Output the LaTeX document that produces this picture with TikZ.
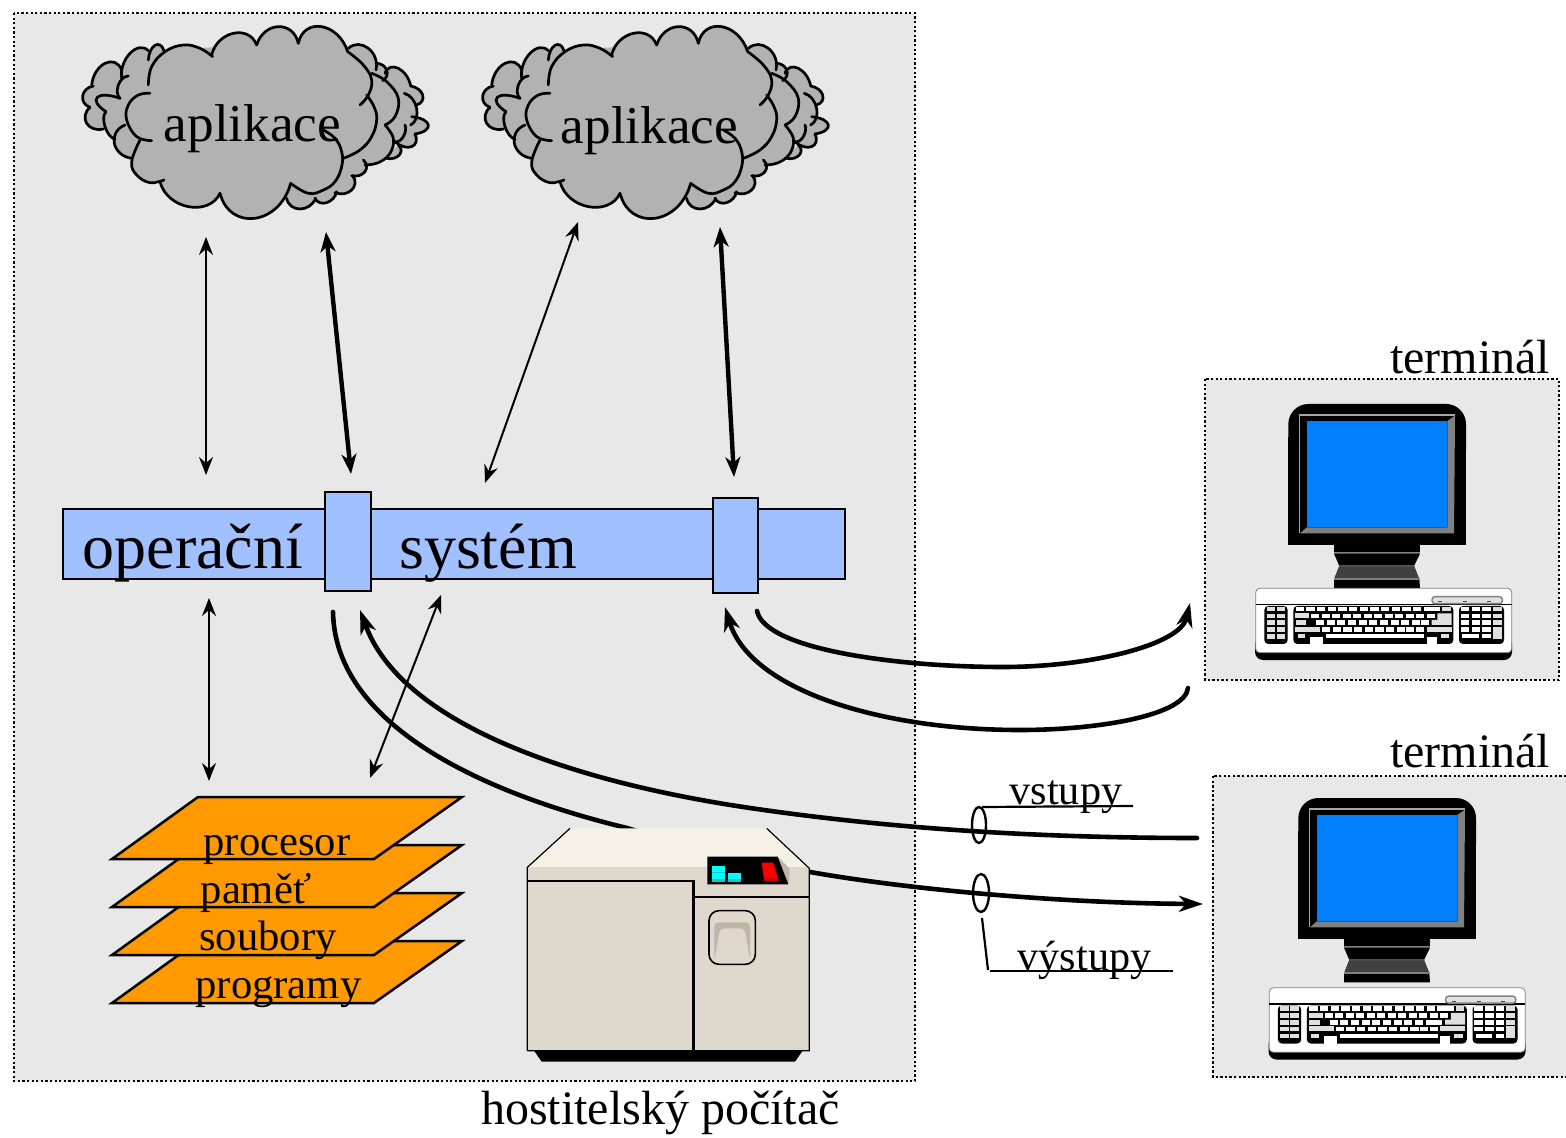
\documentclass[tikz,border=0pt]{standalone}
\usepackage{fontspec}
\setmainfont{Liberation Serif}
\usetikzlibrary{calc,arrows.meta,shapes.geometric}
\definecolor{bggray}{HTML}{E8E8E8}
\definecolor{cloudgray}{HTML}{B2B2B2}
\definecolor{busblue}{HTML}{A0C0FF}
\definecolor{plate}{HTML}{FF9900}
\definecolor{hosttop}{HTML}{F6F1E6}
\definecolor{hostbody}{HTML}{DFD8CC}
\definecolor{hostshade}{HTML}{BDB6A9}
\definecolor{screenblue}{HTML}{0080FF}
\definecolor{keygray}{HTML}{E0E0E0}
\definecolor{lcdcyan}{HTML}{00FFFF}
\definecolor{lcddark}{HTML}{00CCCC}
\tikzset{
  dotbox/.style={draw=black,fill=bggray,line width=1.15pt,dash pattern=on 1.15pt off 1.15pt},
  txt/.style={inner sep=0pt,anchor=base,text=black},
  thinarrow/.style={line width=1pt,{Stealth[length=9pt,width=7pt,inset=3pt]}-{Stealth[length=9pt,width=7pt,inset=3pt]}},
  thickarrow/.style={line width=2.2pt,{Stealth[length=10pt,width=7.5pt,inset=3pt]}-{Stealth[length=10pt,width=7.5pt,inset=3pt]}},
  curvearrow/.style={line width=2.3pt,line cap=round,-{Stealth[length=12pt,width=8pt,inset=3.5pt]}},
  plateshape/.style={draw=black,fill=plate,line width=1.25pt,line join=miter},
  busbox/.style={draw=black,fill=busblue,line width=1.1pt},
  cloudline/.style={draw=black,line width=1.35pt,line cap=round},
  cloudpaint/.style={fill=cloudgray,draw=cloudgray,line width=0.4pt},
  leader/.style={draw=black,line width=1.1pt},
  ringshape/.style={draw=black,line width=1.2pt,ellipse,inner sep=0pt},
}
\newcommand\lobefill[6]{\path[cloudpaint] (#1,#2) .. controls ($0.1833*(#1,#2)+1.3333*(#3,#4)-0.5167*(#5,#6)$) and ($0.1833*(#5,#6)+1.3333*(#3,#4)-0.5167*(#1,#2)$) .. (#5,#6) -- cycle;}
\newcommand\lobedraw[6]{\draw[cloudline] (#1,#2) .. controls ($0.1833*(#1,#2)+1.3333*(#3,#4)-0.5167*(#5,#6)$) and ($0.1833*(#5,#6)+1.3333*(#3,#4)-0.5167*(#1,#2)$) .. (#5,#6);}
\newcommand\slobefill[1]{\path[cloudpaint] plot[smooth,tension=0.7] coordinates {#1} -- cycle;}
\newcommand\slobedraw[1]{\draw[cloudline] plot[smooth,tension=0.7] coordinates {#1};}
\def\backlobes{235/150/255/106/282/122, 155/205/180/130/235/122, 175/198/145/225/150/265, 155/180/105/160/65/225, 70/228/38/258/60/292, 60/292/50/340/100/357, 150/265/82/262/108/305, 108/305/105/350/135/388, 165/345/133/400/185/445, 835/115/895/115/918/180, 918/160/950/180/938/212, 880/450/885/485/845/497, 848/497/845/540/795/548, 800/545/770/578/735/565, 737/565/690/597/650/565, 945/190/985/175/1022/228, 1022/228/1058/255/1040/285, 1003/250/1040/295/1022/345, 1025/320/1075/345/1035/372, 1035/372/1025/410/975/395, 1005/345/1000/380/975/395, 985/405/988/435/950/445}
\def\frontlobes{425/135/490/70/560/105, 560/105/625/50/685/100, 685/100/755/50/833/125, 662/520/555/625/450/550, 450/550/355/590/270/515}
\newcommand\backsmooth[1]{%
  #1{(905,190) (950,215) (985,265) (975,320) (945,345)}
  #1{(945,345) (970,385) (960,430) (925,458) (885,465)}
}
\newcommand\frontsmooth[1]{%
  #1{(833,125) (880,165) (905,210) (895,255) (870,285)}
  #1{(890,255) (912,290) (920,330) (905,380) (870,420) (820,445)}
  #1{(760,360) (795,385) (815,425) (815,470) (795,515) (760,540) (715,550) (662,520)}
  #1{(282,510) (240,518) (200,495) (185,455) (210,390)}
  #1{(245,392) (200,380) (170,330) (175,285) (205,255) (240,250)}
  #1{(235,225) (245,170) (285,125) (340,105) (390,115) (428,140)}
}
\newcommand\cloudshape{%
  \fill[cloudgray] (60,292)--(65,225)--(155,180)--(155,205)--(235,122)--(282,122)--(600,100)--(835,115)--(918,160)--(945,190)--(1022,228)--(1040,285)--(1035,372)--(975,395)--(950,445)--(885,465)--(845,497)--(795,548)--(735,565)--(650,565)--(400,500)--(185,445)--(135,388)--(100,357)--cycle;
  \foreach \a/\b/\c/\d/\e/\f in \backlobes {\lobefill{\a}{\b}{\c}{\d}{\e}{\f}}
  \backsmooth\slobefill
  \foreach \a/\b/\c/\d/\e/\f in \backlobes {\lobedraw{\a}{\b}{\c}{\d}{\e}{\f}}
  \backsmooth\slobedraw
  \fill[cloudgray] (425,135)--(560,105)--(685,100)--(833,125)--(890,255)--(820,445)--(662,520)--(450,550)--(270,515)--(210,390)--(240,250)--cycle;
  \foreach \a/\b/\c/\d/\e/\f in \frontlobes {\lobefill{\a}{\b}{\c}{\d}{\e}{\f}}
  \frontsmooth\slobefill
  \foreach \a/\b/\c/\d/\e/\f in \frontlobes {\lobedraw{\a}{\b}{\c}{\d}{\e}{\f}}
  \frontsmooth\slobedraw
}
\newcommand\monitorshape{%
  \fill[black,rounded corners=10pt] (265,300)--(265,102)--(798,102)--(798,300)--cycle;
  \fill[black] (265,200) rectangle (798,525);
  \fill[gray!70] (297,133) rectangle (765,139);
  \fill[gray!70] (297,133) rectangle (300,490);
  \fill[gray] (742,153)--(765,137)--(762,490)--(300,490)--(320,472)--(742,472)--cycle;
  \fill[screenblue] (320,153) rectangle (742,472);
  \fill[black] (402,525) rectangle (660,547);
  \fill[gray] (402,547) rectangle (660,551);
  \fill[black] (402,551)--(660,551)--(642,588)--(658,628)--(660,655)--(402,655)--(402,628)--(418,588)--cycle;
  \fill[gray] (418,586)--(642,586)--(643,590)--(417,590)--cycle;
  \fill[black!75] (417,590)--(643,590)--(656,625)--(404,625)--cycle;
  \fill[gray] (402,625) rectangle (660,630);
}
\newcommand\keyboardshape{%
  \fill[black,rounded corners=4pt] (165,800) rectangle (936,870);
  \fill[white,draw=gray,line width=0.4pt,rounded corners=2pt] (167,655) rectangle (935,848);
  \draw[black,line width=0.7pt] (167,703) -- (935,703);
  \fill[keygray,draw=gray,line width=0.7pt,rounded corners=1.5pt] (696,680) rectangle (907,701);
  \foreach \x in {720,795,867} \fill[green!50!black] (\x-6,693) rectangle (\x+6,696);
  \fill[black,rounded corners=2pt] (193,708) rectangle (263,822);
  \fill[black,rounded corners=2pt] (280,708) rectangle (760,822);
  \fill[black,rounded corners=2pt] (777,708) rectangle (912,822);
  \fill[white] (330,800) rectangle (370,826);
  \fill[white] (680,800) rectangle (710,826);
  \foreach \y in {710,731,751,771,792} \foreach \x in {200,230} \fill[keygray] (\x,\y) rectangle ++(26,14);
  \foreach \y in {710,731,751} \fill[keygray] (878,\y) rectangle ++(27,14);
  \foreach \y in {710,731,751,771} \foreach \x in {782,815,846} \fill[white] (\x,\y) rectangle ++(26,14);
  \fill[keygray] (878,770) rectangle (905,806);
  \fill[white] (786,792) rectangle (836,805);
  \fill[white] (846,792) rectangle (872,805);
  \foreach \x in {287,319,351,383,415,447,479,511,543,575,607,639,671,695} \fill[white] (\x,710) rectangle ++(25,14);
  \fill[keygray] (726,710) rectangle (752,724);
  \fill[keygray] (285,730) rectangle (328,745);
  \foreach \x in {333,365,396,428,459,491,522,554,585,617,648,680} \fill[white] (\x,731) rectangle ++(24,14);
  \fill[keygray] (712,730)--(755,730)--(755,765)--(695,765)--(695,750)--(712,750)--cycle;
  \fill[keygray] (287,750) rectangle (318,765);
  \foreach \x in {348,380,412,444,476,508,540,572,604,636,662} \fill[white] (\x,751) rectangle ++(24,14);
  \fill[keygray] (285,770) rectangle (360,785);
  \foreach \x in {366,398,430,462,494,526,558,590,618,648} \fill[white] (\x,771) rectangle ++(25,14);
  \fill[keygray] (680,770) rectangle (755,785);
  \fill[keygray] (293,793) rectangle (315,805);
  \fill[white] (378,792) rectangle (672,805);
  \fill[keygray] (722,793) rectangle (748,805);
}
\begin{document}
\begin{tikzpicture}[x=0.5pt,y=-0.5pt]
\useasboundingbox (0,0) rectangle (1566,1138);
% frames
\draw[dotbox] (14,13) rectangle (915,1081);
\draw[dotbox] (1205,379) rectangle (1559,680);
\draw[dotbox] (1213,776) rectangle (1567,1077);
% clouds
\begin{scope}[shift={(70,10)},scale=0.33333]\cloudshape\end{scope}
\begin{scope}[shift={(470,10)},scale=0.33333]\cloudshape\end{scope}
\node[txt,font=\fontsize{26.6}{30}\selectfont] (app1) at (252.5,142) {aplikace};
\node[txt,font=\fontsize{26.6}{30}\selectfont] (app2) at (649.5,144) {aplikace};
% bus
\node[busbox,minimum width=391pt,minimum height=35pt,inner sep=0pt,anchor=north west] (bus) at (62,508) {};
\node[busbox,minimum width=23pt,minimum height=49.5pt,inner sep=0pt,anchor=north west] (port1) at (324,491) {};
\node[busbox,minimum width=22.5pt,minimum height=47.5pt,inner sep=0pt,anchor=north west] (port2) at (712,497) {};
\node[txt,font=\fontsize{32}{36}\selectfont] (os1) at (193,568) {operační};
\node[txt,font=\fontsize{32}{36}\selectfont] (os2) at (488,568) {systém};
% resource plates
\foreach \y in {1003,955,907,859}
  \draw[plateshape] (112,\y) -- (198,\y-62) -- (462,\y-62) -- (374,\y) -- cycle;
\node[txt,font=\fontsize{21.3}{24}\selectfont] (r1) at (277,855) {procesor};
\node[txt,font=\fontsize{21.3}{24}\selectfont] (r2) at (256,903) {paměť};
\node[txt,font=\fontsize{21.3}{24}\selectfont] (r3) at (268,950) {soubory};
\node[txt,font=\fontsize{21.3}{24}\selectfont] (r4) at (278.5,998) {programy};
% connector end points
\coordinate (a1t) at (206,237); \coordinate (a1b) at (206,475);
\coordinate (a2t) at (326,232); \coordinate (a2b) at (351,474);
\coordinate (a3t) at (578,222); \coordinate (a3b) at (485,483);
\coordinate (a4t) at (720,227); \coordinate (a4b) at (734,477);
\coordinate (a5t) at (209,598); \coordinate (a5b) at (209,781);
\coordinate (a6t) at (441,595); \coordinate (a6b) at (370,778);
\coordinate (c1a) at (333,612); \coordinate (c1b) at (1203,904);
\coordinate (c2a) at (1197,838); \coordinate (c2b) at (360,610);
\coordinate (c3a) at (757,611); \coordinate (c3b) at (1190,603);
\coordinate (c4a) at (1188,688); \coordinate (c4b) at (725,607);
\draw[thinarrow] (a1t) -- (a1b);
\draw[thickarrow] (a2t) -- (a2b);
\draw[thinarrow] (a3t) -- (a3b);
\draw[thickarrow] (a4t) -- (a4b);
\draw[thinarrow] (a5t) -- (a5b);
\draw[thinarrow] (a6t) -- (a6b);
% long curved lines
\draw[curvearrow] (c1a) .. controls (335,720) and (470,790) .. (627,828) .. controls (700,850) and (760,865) .. (810,872) .. controls (900,888) and (1050,903) .. (c1b);
\draw[curvearrow] (c2a) .. controls (1050,838) and (900,830) .. (750,808) .. controls (560,780) and (400,720) .. (c2b);
\draw[curvearrow] (c3a) .. controls (765,650) and (900,667) .. (1003,667) .. controls (1090,667) and (1180,645) .. (c3b);
\draw[curvearrow] (c4a) .. controls (1185,715) and (1100,730) .. (1020,730) .. controls (880,730) and (750,690) .. (c4b);
% host computer
\begin{scope}[shift={(510,810)},scale=0.33333]
  \fill[hosttop] (52,172)--(180,55)--(770,55)--(898,175)--cycle;
  \fill[hostbody] (52,172) rectangle (898,722);
  \draw[black,line width=0.6pt] (52,722)--(52,172)--(180,55) (770,55)--(898,175)--(898,722)--(52,722);
  \fill[black] (72,722)--(95,755)--(855,755)--(878,722)--cycle;
  \draw[black,line width=1.2pt] (52,213)--(550,213)--(550,722);
  \draw[black,line width=1.1pt] (550,262)--(898,262);
  \fill[hostshade] (803,140)--(838,175)--(838,215)--(833,223)--cycle;
  \fill[black] (592,140)--(803,140)--(835,223)--(592,223)--cycle;
  \fill[lcdcyan] (606,168) rectangle (645,215);
  \fill[lcdcyan] (654,189) rectangle (693,215);
  \fill[lcddark] (606,186) rectangle (645,188);
  \fill[lcddark] (606,206) rectangle (645,215);
  \fill[lcddark] (654,206) rectangle (693,215);
  \fill[red] (755,158)--(790,158)--(806,213)--(763,213)--cycle;
  \fill[red!75!black] (761,205)--(804,205)--(806,213)--(763,213)--cycle;
  \fill[hostshade,rounded corners=2pt] (613,450)--(613,337)--(720,337)--(720,450)--(704,355)--(630,355)--cycle;
  \draw[black,line width=0.8pt,rounded corners=5pt] (597,302) rectangle (736,463);
\end{scope}
\node[txt,font=\fontsize{24}{28}\selectfont] (hostlabel) at (660.5,1124) {hostitelský počítač};
% terminals
\begin{scope}[shift={(1200,370)},scale=0.33333]\monitorshape\keyboardshape\end{scope}
\begin{scope}[shift={(1210,764)},scale=0.33333]\monitorshape\end{scope}
\begin{scope}[shift={(1213.5,769.5)},scale=0.33333]\keyboardshape\end{scope}
\node[txt,font=\fontsize{24}{28}\selectfont] (t1) at (1470,374) {terminál};
\node[txt,font=\fontsize{24}{28}\selectfont] (t2) at (1470,767) {terminál};
% bundle rings and labels
\node[ringshape,minimum width=7pt,minimum height=18pt] (ring1) at (979,825) {};
\node[ringshape,minimum width=8pt,minimum height=19pt] (ring2) at (981,893) {};
\node[txt,font=\fontsize{21.1}{24}\selectfont] (vst) at (1066,804) {vstupy};
\node[txt,font=\fontsize{21.1}{24}\selectfont] (vyst) at (1084.5,970) {výstupy};
\coordinate (l1a) at (982,807); \coordinate (l1b) at (1133,806);
\coordinate (l2a) at (982,918); \coordinate (l2b) at (988,970);
\coordinate (l3a) at (990,971); \coordinate (l3b) at (1173,971);
\draw[leader] (l1a) -- (l1b);
\draw[leader] (l2a) -- (l2b);
\draw[leader] (l3a) -- (l3b);
\end{tikzpicture}
\end{document}
